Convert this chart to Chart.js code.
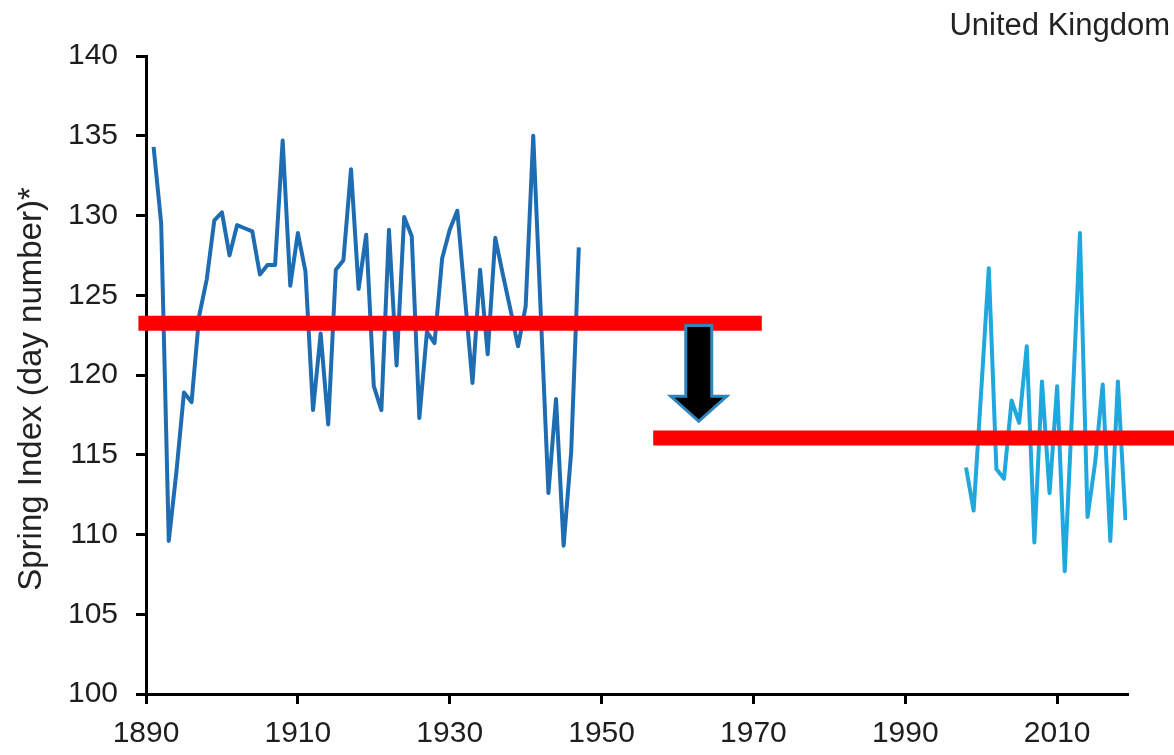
<!DOCTYPE html>
<html>
<head>
<meta charset="utf-8">
<title>Spring Index - United Kingdom</title>
<script src="https://cdn.jsdelivr.net/npm/chart.js@4.4.1/dist/chart.umd.min.js"></script>
<style>
  body { margin: 0; background: #fff; }
  canvas { display: block; }
</style>
</head>
<body>
<canvas id="spring-chart" width="1174" height="755"></canvas>
<script>
const xTicks = [1890, 1910, 1930, 1950, 1970, 1990, 2010];
const yTicks = [100, 105, 110, 115, 120, 125, 130, 135, 140];

const earlyYears = [
    1891, 1892, 1893, 1894, 1895, 1896, 1897, 1898, 1899, 1900,
    1901, 1902, 1903, 1904, 1905, 1906, 1907, 1908, 1909, 1910,
    1911, 1912, 1913, 1914, 1915, 1916, 1917, 1918, 1919, 1920,
    1921, 1922, 1923, 1924, 1925, 1926, 1927, 1928, 1929, 1930,
    1931, 1932, 1933, 1934, 1935, 1936, 1937, 1938, 1939, 1940,
    1941, 1942, 1943, 1944, 1945, 1946, 1947,
];
const earlyValues = [
    134.3, 129.5, 109.6, 113.9, 118.9, 118.3, 123.7, 126.0, 129.7, 130.2,
    127.5, 129.4, 129.2, 129.0, 126.3, 126.9, 126.9, 134.7, 125.6, 128.9,
    126.5, 117.8, 122.6, 116.9, 126.6, 127.2, 132.9, 125.4, 128.8, 119.3,
    117.8, 129.1, 120.6, 129.9, 128.7, 117.3, 122.7, 122.0, 127.3, 129.1,
    130.3, 124.9, 119.5, 126.6, 121.3, 128.6, 126.3, 124.1, 121.8, 124.3,
    135.0, 123.8, 112.6, 118.5, 109.3, 115.2, 128.0,
];

const recentYears = [
    1998, 1999, 2000, 2001, 2002, 2003, 2004, 2005, 2006, 2007, 2008,
    2009, 2010, 2011, 2012, 2013, 2014, 2015, 2016, 2017, 2018, 2019,
];
const recentValues = [
    114.2, 111.5, 119.0, 126.7, 114.1, 113.5, 118.4, 117.0, 121.8, 109.5, 119.6,
    112.6, 119.3, 107.7, 118.0, 128.9, 111.1, 114.5, 119.4, 109.6, 119.6, 110.9,
];

// red mean levels: [from year, to year] and the level
const oldMeanYears = [1889, 1971.1];
const oldMean = 123.25;
const newMeanYears = [1956.8, 2026];
const newMean = 116.05;

// arrow between the two means
const arrowYear = 1962.8;
const arrowFrom = 123.1;
const arrowTo = 117.1;

const tickFont = { family: "'Liberation Sans', Arial, sans-serif", size: 30 };

function toPoints(years, values) {
    return years.map((year, i) => ({ x: year, y: values[i] }));
}

function meanLine(years, level) {
    return {
        data: years.map((year) => ({ x: year, y: level })),
        borderColor: "#ff0000",
        borderWidth: 15,
        borderCapStyle: "butt",
        pointRadius: 0,
        clip: false,
        order: 0,
    };
}

const arrowPlugin = {
    id: "arrow",
    afterDatasetsDraw(chart) {
        const { ctx } = chart;
        const { x, y } = chart.scales;
        const cx = x.getPixelForValue(arrowYear);
        const top = y.getPixelForValue(arrowFrom);
        const tip = y.getPixelForValue(arrowTo);
        const headBase = tip - 25;
        const shaft = 13;
        const head = 28;

        ctx.save();
        ctx.beginPath();
        ctx.moveTo(cx - shaft, top);
        ctx.lineTo(cx + shaft, top);
        ctx.lineTo(cx + shaft, headBase);
        ctx.lineTo(cx + head, headBase);
        ctx.lineTo(cx, tip);
        ctx.lineTo(cx - head, headBase);
        ctx.lineTo(cx - shaft, headBase);
        ctx.closePath();
        ctx.fillStyle = "#000";
        ctx.fill();
        ctx.lineWidth = 3;
        ctx.strokeStyle = "#2e86bf";
        ctx.stroke();
        ctx.restore();
    },
};

const labelsPlugin = {
    id: "labels",
    afterDraw(chart) {
        const { ctx } = chart;
        ctx.save();
        ctx.fillStyle = "#222";
        ctx.font = "31px 'Liberation Sans', Arial, sans-serif";
        ctx.textAlign = "right";
        ctx.textBaseline = "alphabetic";
        ctx.fillText("United Kingdom", 1170, 35);

        ctx.translate(32, 389);
        ctx.rotate(-Math.PI / 2);
        ctx.font = "33px 'Liberation Sans', Arial, sans-serif";
        ctx.textAlign = "center";
        ctx.textBaseline = "middle";
        ctx.fillText("Spring Index (day number)*", 0, 0);
        ctx.restore();
    },
};

new Chart(document.getElementById("spring-chart"), {
    type: "line",
    data: {
        datasets: [
            meanLine(oldMeanYears, oldMean),
            meanLine(newMeanYears, newMean),
            {
                data: toPoints(earlyYears, earlyValues),
                borderColor: "#1e6db2",
                borderWidth: 4,
                borderJoinStyle: "round",
                pointRadius: 0,
                tension: 0,
                order: 1,
            },
            {
                data: toPoints(recentYears, recentValues),
                borderColor: "#1fa8de",
                borderWidth: 4,
                borderJoinStyle: "round",
                pointRadius: 0,
                tension: 0,
                order: 1,
            },
        ],
    },
    options: {
        responsive: false,
        animation: false,
        layout: { padding: { left: 0, right: 47, top: 56, bottom: 0 } },
        plugins: {
            legend: { display: false },
            tooltip: { enabled: false },
        },
        scales: {
            x: {
                type: "linear",
                min: 1890,
                max: 2019.2,
                afterBuildTicks: (scale) => {
                    scale.ticks = xTicks.map((v) => ({ value: v }));
                },
                afterFit: (scale) => {
                    scale.height = 61;
                },
                ticks: {
                    font: tickFont,
                    color: "#1e1e1e",
                    padding: 12,
                    maxRotation: 0,
                    callback: (value) => String(value),
                },
                grid: {
                    drawOnChartArea: false,
                    drawTicks: true,
                    tickLength: 10,
                    color: "#000",
                    lineWidth: 3,
                },
                border: { color: "#000", width: 3 },
            },
            y: {
                min: 100,
                max: 140,
                afterBuildTicks: (scale) => {
                    scale.ticks = yTicks.map((v) => ({ value: v }));
                },
                afterFit: (scale) => {
                    scale.width = 146;
                },
                ticks: {
                    font: tickFont,
                    color: "#1e1e1e",
                    padding: 18,
                },
                grid: {
                    drawOnChartArea: false,
                    drawTicks: true,
                    tickLength: 10,
                    color: "#000",
                    lineWidth: 3,
                },
                border: { color: "#000", width: 3 },
            },
        },
    },
    plugins: [arrowPlugin, labelsPlugin],
});
</script>
</body>
</html>
